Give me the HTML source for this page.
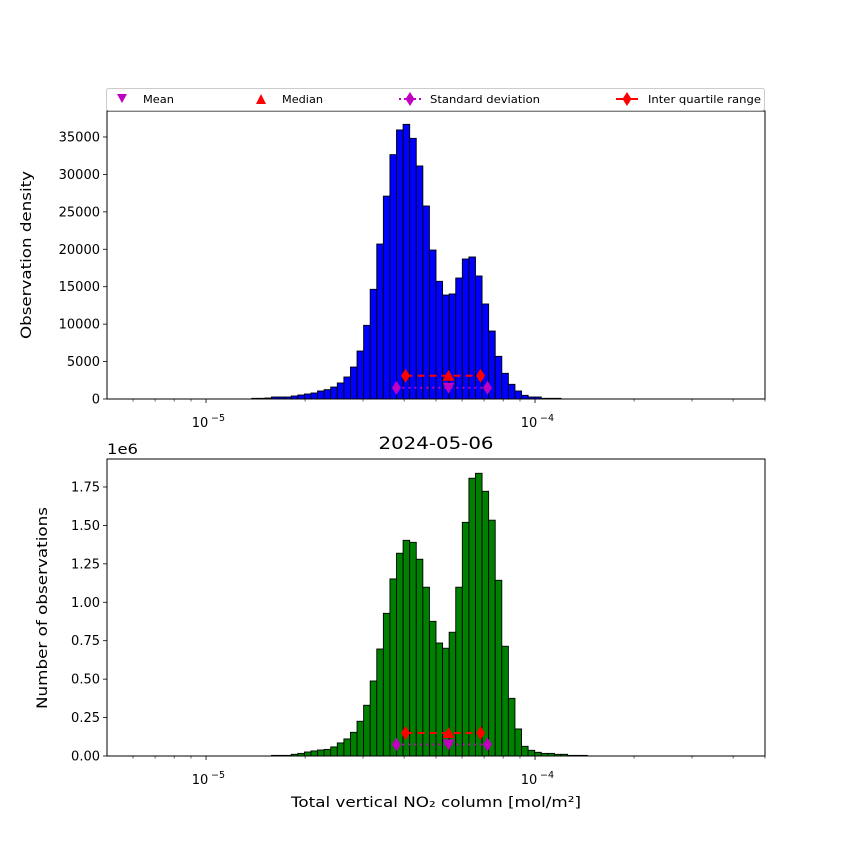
<!DOCTYPE html>
<html><head><meta charset="utf-8"><style>
body{margin:0;background:#fff;}
svg{display:block;font-family:"DejaVu Sans","Liberation Sans",sans-serif;}
</style></head><body>
<svg id="chart" width="850" height="850" viewBox="0 0 850 850"></svg>
<script>
const binStartLog = -5.30103; // log10(5e-6)
const binStepLog = 0.02;
const firstBin = 22;
const topCounts = [90,90,130,267,267,267,400,534,668,800,1070,1250,1600,2140,2940,4270,6410,9840,14650,20700,27100,32640,35940,36690,34820,31130,25780,19900,15720,13890,14030,16160,18700,18970,16430,12690,9080,5700,3430,1960,1070,490,267,267,90,90,90];
const bottomCounts = [0,0,0,0.004,0.004,0.004,0.011,0.017,0.026,0.033,0.039,0.043,0.059,0.085,0.111,0.154,0.226,0.330,0.488,0.696,0.928,1.152,1.319,1.403,1.390,1.280,1.098,0.876,0.735,0.701,0.805,1.098,1.520,1.807,1.839,1.722,1.534,1.143,0.714,0.375,0.176,0.063,0.037,0.024,0.017,0.017,0.011,0.011,0.004,0.004,0.004];
const statX = {mean:5.46e-5, median:5.46e-5, q1:4.04e-5, q3:6.83e-5, sdLo:3.79e-5, sdHi:7.17e-5};
const topStatY = {iqr:3100, sd:1500};
const bottomStatY = {iqr:0.15, sd:0.075};
const topTicks = [0,5000,10000,15000,20000,25000,30000,35000];
const bottomTicks = [0,0.25,0.5,0.75,1.0,1.25,1.5,1.75];
const bottomTickLabels = ["0.00","0.25","0.50","0.75","1.00","1.25","1.50","1.75"];

const NS="http://www.w3.org/2000/svg";
const svg=document.getElementById('chart');
function el(tag,attrs,parent){const e=document.createElementNS(NS,tag);for(const k in attrs)e.setAttribute(k,attrs[k]);(parent||svg).appendChild(e);return e;}
const X0=107,X1=765,LMIN=Math.log10(5e-6),LMAX=Math.log10(5e-4);
function xs(v){return X0+(Math.log10(v)-LMIN)/(LMAX-LMIN)*(X1-X0);}

function panel(name,top,bot,ymax,counts,color,ticks,tickLabels,stats){
  const ys=v=>bot-(v/ymax)*(bot-top);
  const g=el('g',{});
  
  
  const clip=el('clipPath',{id:name+'-clip'},g);
  el('rect',{x:X0,y:top,width:X1-X0,height:bot-top},clip);
  const bars=el('g',{'clip-path':'url(#'+name+'-clip)'},g);
  counts.forEach((c,k)=>{
    const i=firstBin+k;
    const a=Math.pow(10,binStartLog+binStepLog*i), b=Math.pow(10,binStartLog+binStepLog*(i+1));
    if(c<=0)return;
    const r=el('rect',{x:xs(a),y:ys(c),width:xs(b)-xs(a),height:bot-ys(c),fill:color,stroke:'#000','stroke-width':0.9},bars);
    
    
  });
  const yi=ys(stats.iqr), ysd=ys(stats.sd);
  el('line',{x1:xs(statX.q1),x2:xs(statX.q3),y1:yi,y2:yi,stroke:'#f00','stroke-width':2,'stroke-dasharray':'7,5'},g);
  el('line',{x1:xs(statX.sdLo),x2:xs(statX.sdHi),y1:ysd,y2:ysd,stroke:'#bf00bf','stroke-width':2,'stroke-dasharray':'2,4'},g);
  [statX.q1,statX.q3].forEach(v=>{const d=el('path',{d:diamond(xs(v),yi),fill:'#f00'},g);});
  [statX.sdLo,statX.sdHi].forEach(v=>{const d=el('path',{d:diamond(xs(v),ysd),fill:'#bf00bf'},g);});
  const mx=xs(statX.median);
  const med=el('path',{d:`M${mx-6},${yi+5}L${mx+6},${yi+5}L${mx},${yi-6}Z`,fill:'#f00'},g);
  
  
  const mm=xs(statX.mean);
  const mean=el('path',{d:`M${mm-6},${ysd-5}L${mm+6},${ysd-5}L${mm},${ysd+6}Z`,fill:'#bf00bf'},g);
  
  
  el('rect',{x:X0,y:top,width:X1-X0,height:bot-top,fill:'none',stroke:'#000','stroke-width':1},g);
  ticks.forEach((t,k)=>{
    const y=ys(t);
    el('line',{x1:X0-4,x2:X0,y1:y,y2:y,stroke:'#000','stroke-width':0.8},g);
    const tx=el('text',{x:X0-7,y:y+4.5,'text-anchor':'end','font-size':13},g);
    tx.textContent=tickLabels[k];
    
    
  });
  for(let e=-6;e<=-4;e++){for(let m=1;m<10;m++){const v=m*Math.pow(10,e);if(v<5e-6||v>5e-4)continue;const x=xs(v);
    el('line',{x1:x,x2:x,y1:bot,y2:bot+(m==1?4:2.5),stroke:'#000','stroke-width':m==1?0.8:0.6},g);}}
  [-5,-4].forEach(e=>{
    const x=xs(Math.pow(10,e));
    const t=el('text',{x:x-6,y:bot+28,'text-anchor':'middle','font-size':13},g);
    t.textContent='10';
    
    
    const s=el('text',{x:x+12,y:bot+22,'text-anchor':'middle','font-size':9.5},g);
    s.textContent='−'+(-e);
  });
  return ys;
}
function diamond(x,y){return `M${x},${y-7}L${x+4.5},${y}L${x},${y+7}L${x-4.5},${y}Z`;}

panel('top-histogram',111,399,38472,topCounts,'#0000ff',topTicks,topTicks.map(String),topStatY);
panel('bottom-histogram',459,756,1.932,bottomCounts,'#008000',bottomTicks,bottomTickLabels,bottomStatY);

function txt(x,y,s,size,name,extra){const t=el('text',Object.assign({x:x,y:y,'font-size':size},extra||{}));t.textContent=s;return t;}
txt(107,454,'1e6',14,'y-offset-label',{textLength:31,lengthAdjust:'spacingAndGlyphs'});
txt(436,449,'2024-05-06',17,'chart-title',{'text-anchor':'middle',textLength:115,lengthAdjust:'spacingAndGlyphs'});
txt(436,807,'Total vertical NO₂ column [mol/m²]',14.5,'x-axis-title',{'text-anchor':'middle',textLength:290,lengthAdjust:'spacingAndGlyphs'});
txt(31,255,'Observation density',14.5,'top-y-axis-title',{'text-anchor':'middle',transform:'rotate(-90 31 255)',textLength:168,lengthAdjust:'spacingAndGlyphs'});
txt(47,608,'Number of observations',14.5,'bottom-y-axis-title',{'text-anchor':'middle',transform:'rotate(-90 47 608)',textLength:202,lengthAdjust:'spacingAndGlyphs'});

const lg=el('g',{});


el('rect',{x:106.5,y:88.5,width:658,height:22,rx:2,fill:'#fff',stroke:'#ccc'},lg);
el('path',{d:'M117,94L127,94L122,103Z',fill:'#bf00bf'},lg);
el('path',{d:'M256,104L266,104L261,94Z',fill:'#f00'},lg);
el('line',{x1:399,x2:421,y1:99,y2:99,stroke:'#bf00bf','stroke-width':2,'stroke-dasharray':'2,3'},lg);
el('path',{d:diamond(410,99),fill:'#bf00bf'},lg);
el('line',{x1:616,x2:638,y1:99,y2:99,stroke:'#f00','stroke-width':2},lg);
el('path',{d:diamond(627,99),fill:'#f00'},lg);
[[143,'Mean','legend-entry-mean',31],[282,'Median','legend-entry-median',41],[430,'Standard deviation','legend-entry-std',110],[648,'Inter quartile range','legend-entry-iqr',113]].forEach(([x,s,n,w])=>{
  const t=el('text',{x:x,y:103,'font-size':11,textLength:w,lengthAdjust:'spacingAndGlyphs'},lg);t.textContent=s;
  
  
});
</script>
</body></html>
